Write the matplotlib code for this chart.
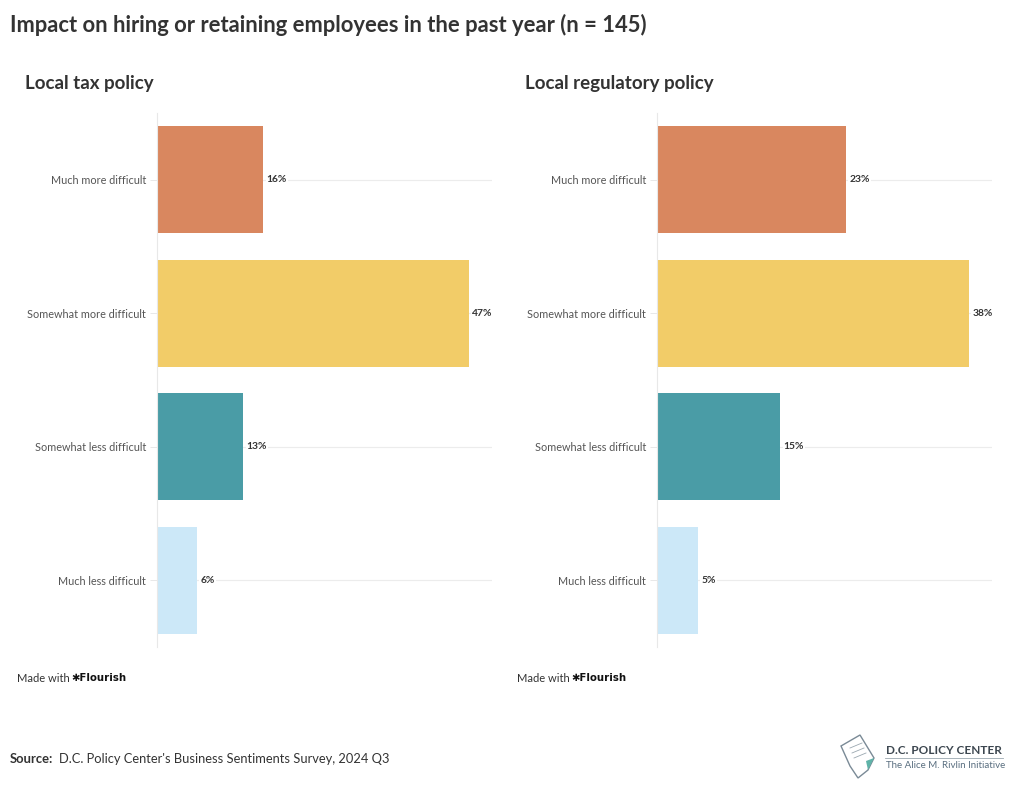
import matplotlib.pyplot as plt
from matplotlib.patches import Polygon

plt.rcParams['font.family'] = ['Lato', 'DejaVu Sans']

# --- data ---
categories = ['Much more difficult', 'Somewhat more difficult',
              'Somewhat less difficult', 'Much less difficult']
tax_values = [16, 47, 13, 6]
reg_values = [23, 38, 15, 5]
panel_titles = ['Local tax policy', 'Local regulatory policy']
bar_colors = ['#d9875f', '#f2cc68', '#4a9ca6', '#cce8f8']

W, H = 1020, 801
fig = plt.figure(figsize=(W / 100, H / 100), dpi=100)
fig.patch.set_facecolor('white')


def fx(px):
    return px / W


def fy(py):
    return 1 - py / H


fig.text(fx(10), fy(25), 'Impact on hiring or retaining employees in the past year (n = 145)',
         fontsize=15.8, fontweight='bold', color='#333333', va='center', ha='left')

panels = [(157, tax_values, panel_titles[0], 25, 17),
          (657, reg_values, panel_titles[1], 525, 517)]

for left_px, values, title, title_x, made_x in panels:
    ax = fig.add_axes([fx(left_px), fy(647), fx(335), 534 / H])
    y = range(len(categories))
    ax.barh(y, values, height=0.8, color=bar_colors, zorder=2)
    ax.set_xlim(0, max(values) * 335 / 312)
    ax.set_ylim(3.5, -0.5)
    ax.set_yticks(list(y))
    ax.set_yticklabels(categories, fontsize=7.8, color='#555555')
    ax.tick_params(axis='y', length=5, width=0.6, color='#e4e4e4', pad=3)
    ax.set_xticks([])
    for s in ['top', 'right', 'bottom']:
        ax.spines[s].set_visible(False)
    ax.spines['left'].set_color('#e8e8e8')
    ax.spines['left'].set_linewidth(0.8)
    for yi in y:
        ax.axhline(yi, color='#ececec', lw=0.8, zorder=1)
    for yi, v in zip(y, values):
        ax.annotate(f'{v}%', (v, yi), xytext=(2.5, 0), textcoords='offset points',
                    va='center', ha='left', fontsize=7.4, fontweight='bold',
                    color='#333333', zorder=3,
                    bbox=dict(boxstyle='square,pad=0.1', fc='white', ec='none'))
    fig.text(fx(title_x), fy(83), title, fontsize=13.5, fontweight='bold',
             color='#333333', va='center', ha='left')
    fig.text(fx(made_x), fy(678), 'Made with', fontsize=8, color='#333333',
             va='center', ha='left')
    fig.text(fx(made_x + 54), fy(678), '\u2731Flourish', fontsize=7.3, fontweight='bold',
             color='#111111', va='center', ha='left', family=['DejaVu Sans'])

# source line
fig.text(fx(10), fy(759), 'Source:', fontsize=9.4, fontweight='bold',
         color='#333333', va='center', ha='left')
fig.text(fx(59), fy(759), "D.C. Policy Center's Business Sentiments Survey, 2024 Q3",
         fontsize=9.3, color='#333333', va='center', ha='left')

# logo
paper = Polygon([[fx(841), fy(746)], [fx(860), fy(735)], [fx(874), fy(758)],
                 [fx(868), fy(770)], [fx(858), fy(778)], [fx(850), fy(766)]],
                closed=True, fill=False, ec='#7a8a96', lw=1.0, transform=fig.transFigure)
corner = Polygon([[fx(866), fy(761)], [fx(874), fy(758)], [fx(868), fy(770)]],
                 closed=True, fc='#5fb3a8', ec='none', transform=fig.transFigure)
fig.add_artist(paper)
fig.add_artist(corner)
for k in range(3):
    fig.add_artist(plt.Line2D([fx(850 + k * 2), fx(862 + k * 2)],
                              [fy(748 + k * 5), fy(743 + k * 5)], color='#9aa7b0',
                              lw=0.6, transform=fig.transFigure))
fig.text(fx(886), fy(750), 'D.C. POLICY CENTER', fontsize=8.5, color='#3d4750',
         va='center', ha='left', fontweight='bold')
fig.add_artist(plt.Line2D([fx(885), fx(1003)], [fy(758), fy(758)], color='#9aa7b0',
                          lw=0.6, transform=fig.transFigure))
fig.text(fx(886), fy(766), 'The Alice M. Rivlin Initiative', fontsize=7,
         color='#5a6f80', va='center', ha='left')

fig.savefig('out.png', dpi=100, facecolor='white')
